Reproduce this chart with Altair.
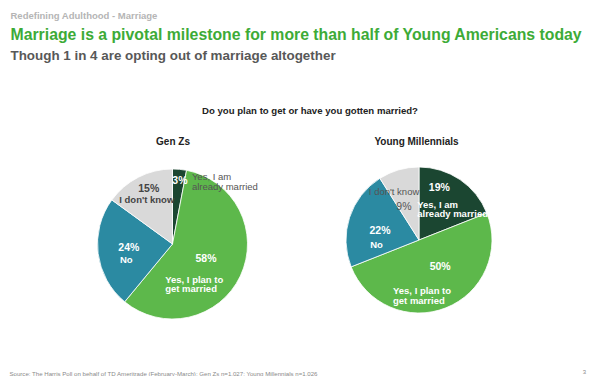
import math
import altair as alt
import pandas as pd

# ---------------- data ----------------
PIES = ["Gen Zs", "Young Millennials"]
CATEGORIES = ["Yes, I am already married", "Yes, I plan to get married", "No", "I don't know"]
LABEL_LINES = ["Yes, I am\nalready married", "Yes, I plan to\nget married", "No", "I don't know"]
GEN_Z = [3, 58, 24, 15]
YOUNG_MILLENNIALS = [19, 50, 22, 9]
COLORS = ["#1b4631", "#5db84b", "#2b8aa2", "#d9d9d9"]

HEADER = "Redefining Adulthood - Marriage"
TITLE = "Marriage is a pivotal milestone for more than half of Young Americans today"
SUBTITLE = "Though 1 in 4 are opting out of marriage altogether"
QUESTION = "Do you plan to get or have you gotten married?"
SOURCE = ("Source: The Harris Poll on behalf of TD Ameritrade (February-March); "
          "Gen Zs n=1,027; Young Millennials  n=1,026")
PAGE_NUMBER = "3"

rows = []
for pie, vals in zip(PIES, [GEN_Z, YOUNG_MILLENNIALS]):
    for i, (cat, lab, v) in enumerate(zip(CATEGORIES, LABEL_LINES, vals)):
        rows.append({"pie": pie, "category": cat, "label": lab, "value": v,
                     "pct": f"{v}%", "order": i})
df = pd.DataFrame(rows)

FONT = "Liberation Sans"
theta_scale = alt.Scale(domain=[0, 100], range=[0, 2 * math.pi])

# pie geometry (style)
GEOM = {"Gen Zs": (164.5, 236, 75), "Young Millennials": (411, 232, 73)}

base = (
    alt.Chart(df)
    .transform_window(cum="sum(value)", groupby=["pie"], sort=[{"field": "order"}],
                      frame=[None, 0])
    .transform_calculate(start="datum.cum - datum.value",
                         mid="datum.cum - datum.value / 2")
)

layers = []
for pie in PIES:
    cx, cy, R = GEOM[pie]
    layers.append(
        base.transform_filter(alt.datum.pie == pie)
        .mark_arc(outerRadius=R, stroke="white", strokeWidth=0.8)
        .encode(
            theta=alt.Theta("start:Q", scale=theta_scale),
            theta2="cum:Q",
            color=alt.Color("category:N", scale=alt.Scale(domain=CATEGORIES, range=COLORS),
                            legend=None),
            x=alt.value(cx), y=alt.value(cy),
        )
    )

WHITE, DARK = "white", "#444444"
# label styles: (pie, category index, field, radius, dx, dy, align, color, weight)
LABEL_STYLE = [
    ("Gen Zs", 0, "pct", 63, 1.5, 0, "center", WHITE, "bold"),
    ("Gen Zs", 0, "label", 68, 13, 1, "left", "#555555", "normal"),
    ("Gen Zs", 3, "pct", 59, 3, -2, "center", DARK, "bold"),
    ("Gen Zs", 3, "label", 50, -3, 1, "center", DARK, "bold"),
    ("Gen Zs", 2, "pct", 44, 0, -1.5, "center", WHITE, "bold"),
    ("Gen Zs", 2, "label", 54, 1, 9, "left", WHITE, "bold"),
    ("Gen Zs", 1, "pct", 37, 0, -1, "center", WHITE, "bold"),
    ("Gen Zs", 1, "label", 8.5, -15, 32, "left", WHITE, "bold"),
    ("Young Millennials", 0, "pct", 54, -10, -7, "center", WHITE, "bold"),
    ("Young Millennials", 0, "label", 28, -17.5, -12, "left", WHITE, "bold"),
    ("Young Millennials", 3, "label", 53.5, -10, 3, "center", "#555555", "normal"),
    ("Young Millennials", 3, "pct", 36, -5, 1.5, "center", "#555555", "normal"),
    ("Young Millennials", 2, "pct", 40, -1, 3, "center", WHITE, "bold"),
    ("Young Millennials", 2, "label", 45, -6, 18.5, "left", WHITE, "bold"),
    ("Young Millennials", 1, "pct", 33, 9, -3.5, "center", WHITE, "bold"),
    ("Young Millennials", 1, "label", 38, -40, 16, "left", WHITE, "bold"),
]

for pie, ci, field, r, dx, dy, align, color, weight in LABEL_STYLE:
    cx, cy, R = GEOM[pie]
    size = 10.5 if field == "pct" else 9.5
    layers.append(
        base.transform_filter((alt.datum.pie == pie) & (alt.datum.category == CATEGORIES[ci]))
        .mark_text(radius=r, dx=dx, dy=dy, align=align, baseline="middle",
                   lineBreak="\n", lineHeight=9.5, font=FONT, fontSize=size,
                   fontWeight=weight, color=color)
        .encode(theta=alt.Theta("mid:Q", scale=theta_scale), text=f"{field}:N",
                x=alt.value(cx), y=alt.value(cy))
    )


def static_text(txt, x, y, size, color, weight="normal", align="left", baseline="alphabetic",
                font=FONT):
    return (
        alt.Chart(pd.DataFrame({"t": [txt]}))
        .mark_text(align=align, baseline=baseline, fontSize=size, fontWeight=weight,
                   color=color, font=font)
        .encode(text="t:N", x=alt.value(x), y=alt.value(y))
    )


layers += [
    static_text(HEADER, 2.5, 11, 9.5, "#b5b5b5", "bold"),
    static_text(TITLE, 2.5, 31.5, 15.8, "#3dab37", "bold"),
    static_text(SUBTITLE, 2.5, 51.5, 13.4, "#585858", "bold"),
    static_text(QUESTION, 302, 105.5, 9.6, "#222222", "bold", align="center"),
    static_text(PIES[0], 165, 136.5, 10, "#222222", "bold", align="center"),
    static_text(PIES[1], 408.5, 136.5, 10, "#222222", "bold", align="center"),
    static_text(SOURCE, 1.5, 368, 6.1, "#8a8a8a"),
    static_text(PAGE_NUMBER, 578, 366, 6, "#8a8a8a", align="right"),
]

chart = (
    alt.layer(*layers)
    .properties(width=584, height=368, padding=0, autosize="none", background="white")
    .configure_view(stroke=None)
)

chart.save("out.html", embed_options={"renderer": "svg", "actions": False})
